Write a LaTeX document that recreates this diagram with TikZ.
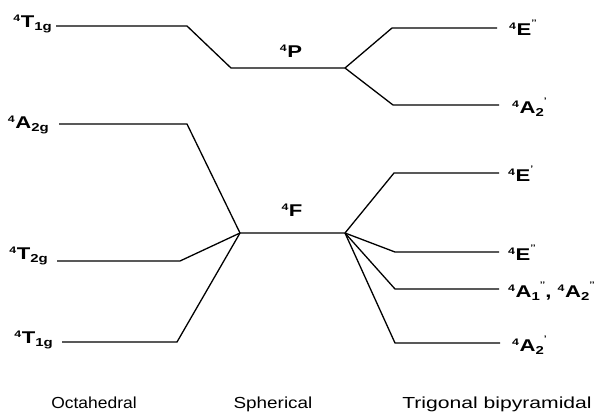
\documentclass[tikz,border=0pt]{standalone}
\usepackage{fontspec}
\setmainfont{Liberation Sans}[FakeStretch=1.3]
\newfontfamily\capfont{Liberation Sans}
\newcommand{\trm}[4]{\textbf{\raisebox{5.5pt}{\fontsize{9.5}{9.5}\selectfont #1}\kern0.6pt #2\raisebox{-3.5pt}{\fontsize{11.5}{11.5}\selectfont #3}\raisebox{9.5pt}{\fontsize{8}{8}\selectfont #4}}}
\begin{document}
\begin{tikzpicture}[x=1pt,y=-1pt,
  lvl/.style={line width=1.3pt},
  lab/.style={inner sep=0pt, font=\fontsize{17}{17}\selectfont\bfseries},
  capt/.style={inner sep=0pt, font=\capfont\fontsize{16}{16}\selectfont}]
\useasboundingbox (0,0) rectangle (599,413);
% level end points
\coordinate (o1a) at (56,26);  \coordinate (o1b) at (187,26);
\coordinate (pa)  at (231,68); \coordinate (pb)  at (345,68);
\coordinate (o2a) at (59,124); \coordinate (o2b) at (187,124);
\coordinate (o3a) at (57,261); \coordinate (o3b) at (180,261);
\coordinate (o4a) at (62,342); \coordinate (o4b) at (177,342);
\coordinate (fa)  at (240,233); \coordinate (fb) at (345,233);
\coordinate (t1a) at (392,28);  \coordinate (t1b) at (497,28);
\coordinate (t2a) at (393,105); \coordinate (t2b) at (499,105);
\coordinate (t3a) at (394,173); \coordinate (t3b) at (499,173);
\coordinate (t4a) at (395,252); \coordinate (t4b) at (499,252);
\coordinate (t5a) at (395,289); \coordinate (t5b) at (499,289);
\coordinate (t6a) at (395,343); \coordinate (t6b) at (500,343);
% levels and correlation lines
\draw[lvl] (o1a) -- (o1b) -- (pa) -- (pb) -- (t1a) -- (t1b);
\draw[lvl] (pb) -- (t2a) -- (t2b);
\draw[lvl] (o2a) -- (o2b) -- (fa) -- (fb) -- (t3a) -- (t3b);
\draw[lvl] (o3a) -- (o3b) -- (fa);
\draw[lvl] (o4a) -- (o4b) -- (fa);
\draw[lvl] (fb) -- (t4a) -- (t4b);
\draw[lvl] (fb) -- (t5a) -- (t5b);
\draw[lvl] (fb) -- (t6a) -- (t6b);
% left labels
\node[lab, anchor=base east] (lo1) at (52,27)  {\trm{4}{T}{1g}{}};
\node[lab, anchor=base east] (lo2) at (49,128) {\trm{4}{A}{2g}{}};
\node[lab, anchor=base east] (lo3) at (48,259) {\trm{4}{T}{2g}{}};
\node[lab, anchor=base east] (lo4) at (53,343) {\trm{4}{T}{1g}{}};
% middle labels
\node[lab, anchor=base] (lp) at (291,57)  {\trm{4}{P}{}{}};
\node[lab, anchor=base] (lf) at (292,216) {\trm{4}{F}{}{}};
% right labels
\node[lab, anchor=base west] (lt1) at (509,35)  {\trm{4}{E}{}{’’}};
\node[lab, anchor=base west] (lt2) at (512,113) {\trm{4}{A}{2}{’}};
\node[lab, anchor=base west] (lt3) at (508,181) {\trm{4}{E}{}{’}};
\node[lab, anchor=base west] (lt4) at (508,260) {\trm{4}{E}{}{’’}};
\node[lab, anchor=base west] (lt5) at (508,297) {\trm{4}{A}{1}{’’}, \trm{4}{A}{2}{’’}};
\node[lab, anchor=base west] (lt6) at (512,351) {\trm{4}{A}{2}{’}};
% captions
\node[capt, anchor=base] (co) at (94,408)  {\scalebox{1.09}[1]{Octahedral}};
\node[capt, anchor=base] (cs) at (273,408) {\scalebox{1.18}[1]{Spherical}};
\node[capt, anchor=base] (ct) at (497,408) {\scalebox{1.32}[1]{Trigonal bipyramidal}};
\end{tikzpicture}
\end{document}
